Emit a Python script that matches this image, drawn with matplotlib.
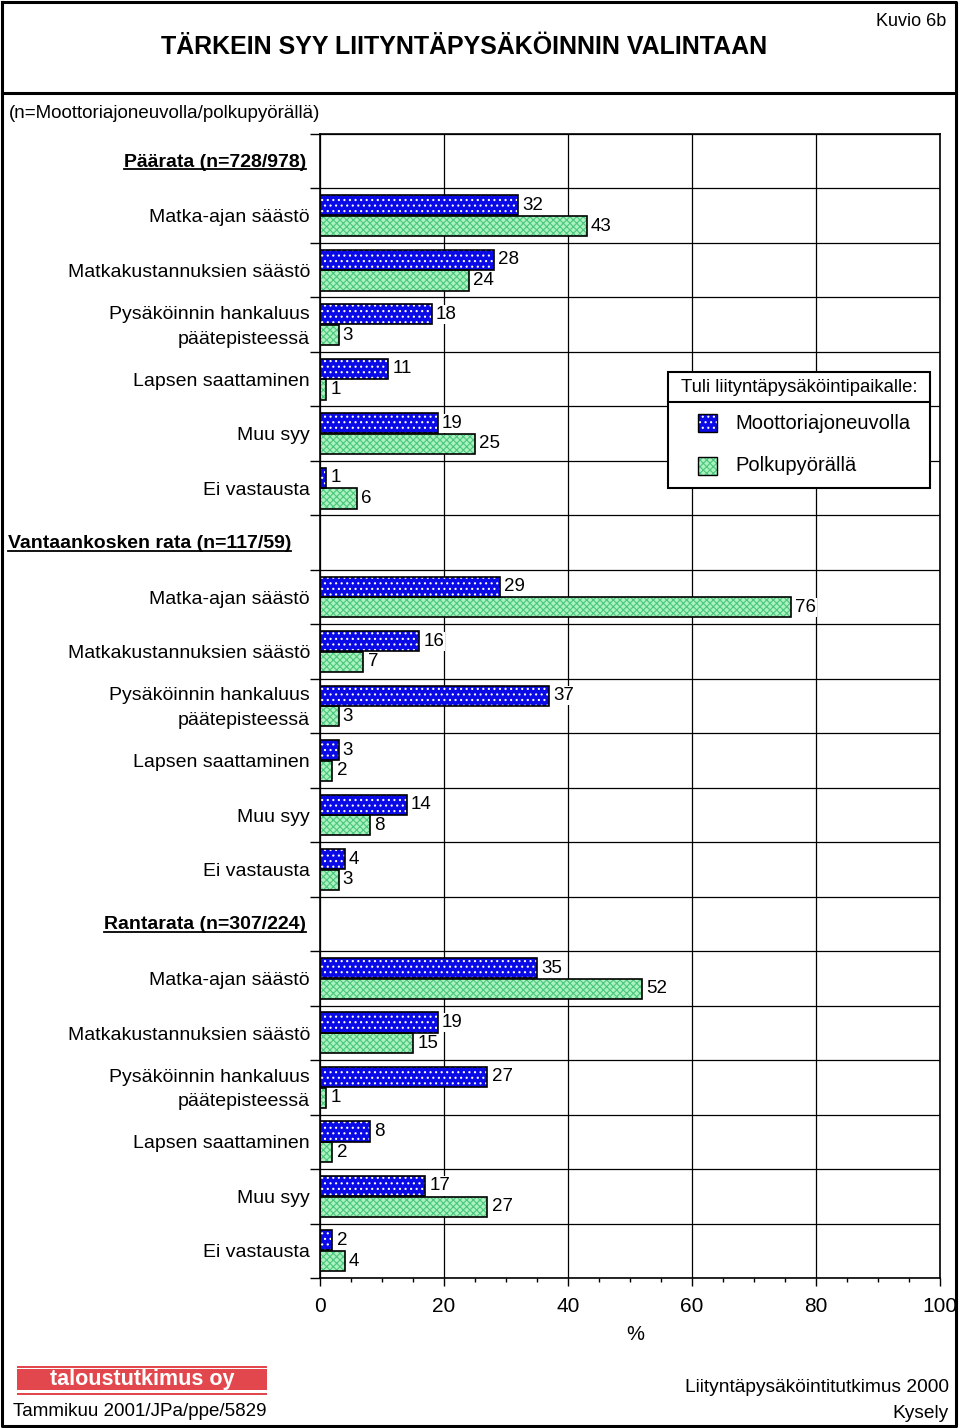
import matplotlib
matplotlib.use('Agg')
import matplotlib.pyplot as plt
from matplotlib.patches import Rectangle
from matplotlib.lines import Line2D

plt.rcParams['font.family'] = ['Liberation Sans', 'DejaVu Sans']
plt.rcParams['hatch.linewidth'] = 0.8

# data
groups = ['Päärata (n=728/978)', 'Vantaankosken rata (n=117/59)', 'Rantarata (n=307/224)']
reasons = ['Matka-ajan säästö', 'Matkakustannuksien säästö',
           'Pysäköinnin hankaluus\npäätepisteessä', 'Lapsen saattaminen',
           'Muu syy', 'Ei vastausta']
auto_vals = [[32, 28, 18, 11, 19, 1],
             [29, 16, 37, 3, 14, 4],
             [35, 19, 27, 8, 17, 2]]
bike_vals = [[43, 24, 3, 1, 25, 6],
             [76, 7, 3, 2, 8, 3],
             [52, 15, 1, 2, 27, 4]]
series = ['Moottoriajoneuvolla', 'Polkupyörällä']
xticks = [0, 20, 40, 60, 80, 100]

W, H = 960, 1428
def fx(x):
    return x / W
def fy(y):
    return 1 - y / H

BLUE, BLUE_H = '#0a0ae6', 'white'
GREEN, GREEN_H = '#aaf2c2', '#4cc77a'

fig = plt.figure(figsize=(W / 100, H / 100), dpi=100)
ax = fig.add_axes([fx(320), fy(1278), 620 / W, (1278 - 134) / H])

nrows = len(groups) * (len(reasons) + 1)
ax.set_xlim(0, 100)
ax.set_ylim(nrows, 0)
ax.set_yticks(range(nrows + 1))
ax.set_yticklabels([])
ax.tick_params(axis='y', length=7.5, width=1, direction='out')
ax.set_xticks(xticks)
ax.set_xticks(range(0, 101, 5), minor=True)
ax.tick_params(axis='x', which='major', length=6, width=1, labelsize=15, pad=8)
ax.tick_params(axis='x', which='minor', length=3, width=1)
ax.grid(True, which='major', color='black', lw=0.9)
ax.set_axisbelow(True)
for s in ax.spines.values():
    s.set_linewidth(1.2)

bh = 0.37
def hbar(y, v, fc, hc, hatch):
    ax.barh(y, v, height=bh, color=fc, edgecolor=hc, hatch=hatch, lw=0, zorder=2)
    ax.barh(y, v, height=bh, facecolor='none', edgecolor='black', lw=1.2, zorder=3)

def vlabel(y, v):
    ax.annotate(str(v), (v, y), xytext=(3, 0), textcoords='offset points',
                ha='left', va='center', fontsize=13.5, zorder=4,
                bbox=dict(fc='white', ec='none', pad=0.8))

headers = []
for g, name in enumerate(groups):
    r0 = g * (len(reasons) + 1)
    if g == 1:
        t = ax.text((8 - 320) / 620, r0 + 0.52, name, transform=ax.get_yaxis_transform(),
                    ha='left', va='center', fontsize=14, weight='bold')
    else:
        t = ax.text((306 - 320) / 620, r0 + 0.52, name, transform=ax.get_yaxis_transform(),
                    ha='right', va='center', fontsize=14, weight='bold')
    headers.append(t)
    for k, lab in enumerate(reasons):
        r = r0 + 1 + k
        ax.text(-0.016, r + 0.54, lab, transform=ax.get_yaxis_transform(),
                ha='right', va='center', fontsize=14, multialignment='right',
                linespacing=1.6)
        a = auto_vals[g][k]
        b = bike_vals[g][k]
        hbar(r + 0.31, a, BLUE, BLUE_H, '...')
        hbar(r + 0.69, b, GREEN, GREEN_H, 'xxxxx')
        vlabel(r + 0.31, a)
        vlabel(r + 0.69, b)

# texts
fig.text(fx(464), fy(47), 'TÄRKEIN SYY LIITYNTÄPYSÄKÖINNIN VALINTAAN',
         ha='center', va='center', fontsize=18, weight='bold')
fig.text(fx(946), fy(21), 'Kuvio 6b', ha='right', va='center', fontsize=13)
fig.text(fx(9), fy(114), '(n=Moottoriajoneuvolla/polkupyörällä)', ha='left',
         va='center', fontsize=13.5)
fig.text(fx(635), fy(1335), '%', ha='center', va='center', fontsize=14.5)

# legend
fig.add_artist(Rectangle((fx(668), fy(488)), 262 / W, 116 / H, transform=fig.transFigure,
                         fc='white', ec='black', lw=1.5, zorder=5))
fig.add_artist(Line2D([fx(668), fx(930)], [fy(402), fy(402)], color='black', lw=1.5, zorder=6))
fig.text(fx(799), fy(388), 'Tuli liityntäpysäköintipaikalle:', ha='center', va='center',
         fontsize=13.3, zorder=7)
for i, (fc, hc, hatch) in enumerate([(BLUE, BLUE_H, '...'), (GREEN, GREEN_H, 'xxxxx')]):
    yc = [423, 466][i]
    fig.add_artist(Rectangle((fx(698), fy(yc + 9)), 19 / W, 18 / H, transform=fig.transFigure,
                             fc=fc, ec=hc, hatch=hatch, lw=0, zorder=6))
    fig.add_artist(Rectangle((fx(698), fy(yc + 9)), 19 / W, 18 / H, transform=fig.transFigure,
                             fc='none', ec='black', lw=1, zorder=7))
    fig.text(fx(735), fy(yc), series[i], ha='left', va='center', fontsize=14.5, zorder=7)

# footer
RED = '#e2474d'
fig.add_artist(Rectangle((fx(17), fy(1367.5)), 250 / W, 2 / H, transform=fig.transFigure,
                         fc=RED, ec='none'))
fig.add_artist(Rectangle((fx(17), fy(1389.5)), 250 / W, 20.5 / H, transform=fig.transFigure,
                         fc=RED, ec='none'))
fig.add_artist(Rectangle((fx(17), fy(1394.5)), 250 / W, 2 / H, transform=fig.transFigure,
                         fc=RED, ec='none'))
fig.text(fx(142), fy(1380), 'taloustutkimus oy', ha='center', va='center', fontsize=15.5,
         weight='bold', color='white')
fig.text(fx(13), fy(1411), 'Tammikuu 2001/JPa/ppe/5829', ha='left', va='center', fontsize=13.5)
fig.text(fx(949), fy(1388), 'Liityntäpysäköintitutkimus 2000', ha='right', va='center',
         fontsize=13.8)
fig.text(fx(949), fy(1413), 'Kysely', ha='right', va='center', fontsize=13.8)

# frame
frame = dict(color='black', lw=2.2, solid_capstyle='projecting')
fig.add_artist(Line2D([fx(2), fx(956), fx(956), fx(2), fx(2)],
                      [fy(2), fy(2), fy(1426), fy(1426), fy(2)], **frame))
fig.add_artist(Line2D([fx(2), fx(956)], [fy(93), fy(93)], **frame))

# underline the group headers
fig.canvas.draw()
rend = fig.canvas.get_renderer()
inv = fig.transFigure.inverted()
for t in headers:
    bb = t.get_window_extent(rend).transformed(inv)
    yy = bb.y0 + 1.5 / H
    fig.add_artist(Line2D([bb.x0, bb.x1], [yy, yy], color='black', lw=1.3))

fig.savefig('out.png', dpi=100)
